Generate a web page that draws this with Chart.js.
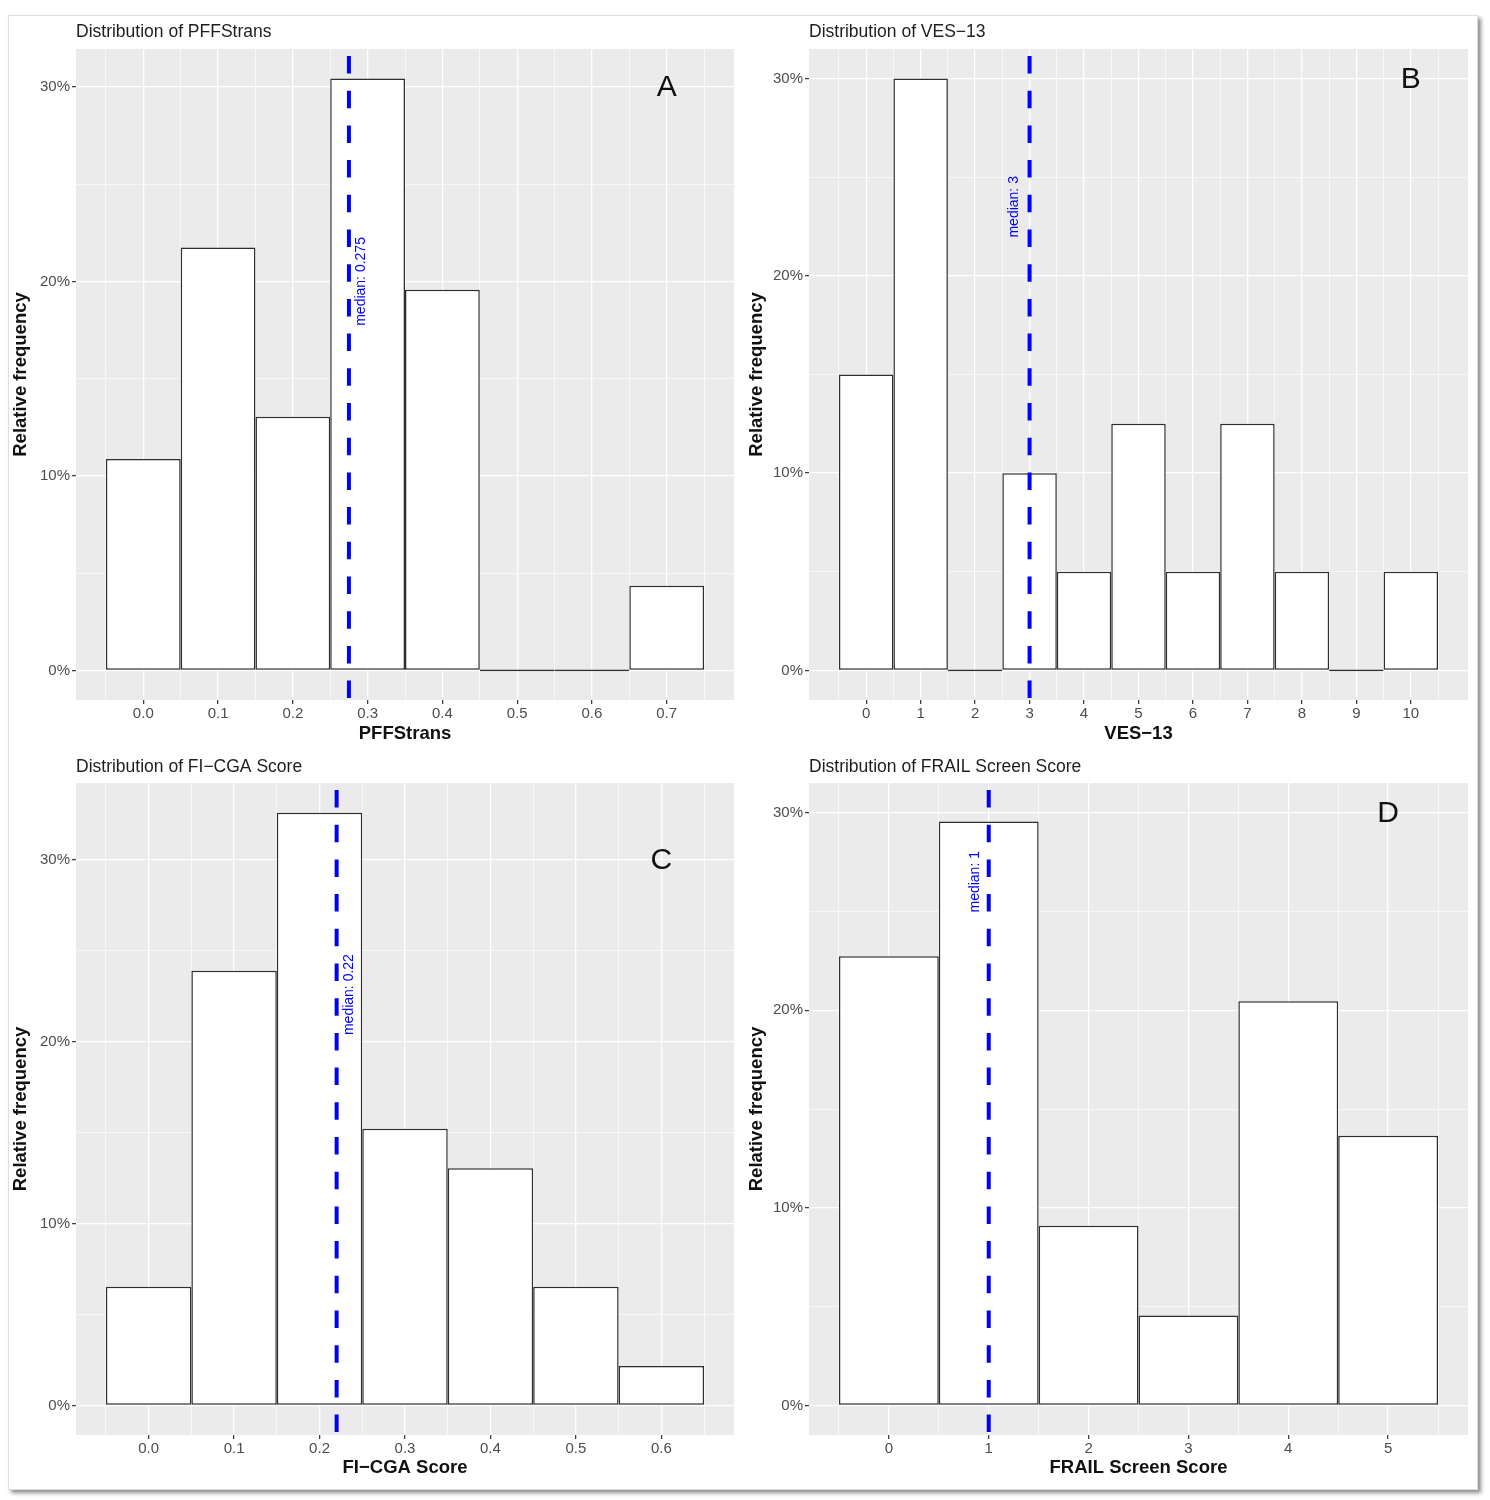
<!DOCTYPE html>
<html>
<head>
<meta charset="utf-8">
<script src="https://cdn.jsdelivr.net/npm/chart.js@4.4.1/dist/chart.umd.min.js"></script>
<style>
html,body{margin:0;padding:0;background:#fff;}
body{width:1490px;height:1500px;position:relative;overflow:hidden;font-family:"Liberation Sans",Arial,sans-serif;}
#frame{position:absolute;left:8px;top:15px;width:1468px;height:1473px;border:1px solid #dedede;box-shadow:3px 3px 4px rgba(0,0,0,0.45);background:#fff;}
canvas{position:absolute;}
</style>
</head>
<body>
<div id="frame"></div>
<canvas id="cA"></canvas>
<canvas id="cB"></canvas>
<canvas id="cC"></canvas>
<canvas id="cD"></canvas>
<script>
// ---------------- data ----------------
const pffBins = [0.0, 0.1, 0.2, 0.3, 0.4, 0.5, 0.6, 0.7];
const pffPercent = [10.87, 21.74, 13.04, 30.43, 19.57, 0, 0, 4.35];
const pffTicks = [0.0, 0.1, 0.2, 0.3, 0.4, 0.5, 0.6, 0.7];
const pffTickLabels = ['0.0', '0.1', '0.2', '0.3', '0.4', '0.5', '0.6', '0.7'];
const pffMedian = 0.275;

const vesBins = [0, 1, 2, 3, 4, 5, 6, 7, 8, 9, 10];
const vesPercent = [15, 30, 0, 10, 5, 12.5, 5, 12.5, 5, 0, 5];
const vesTicks = [0, 1, 2, 3, 4, 5, 6, 7, 8, 9, 10];
const vesTickLabels = ['0', '1', '2', '3', '4', '5', '6', '7', '8', '9', '10'];
const vesMedian = 3;

const fiBins = [0.0, 0.1, 0.2, 0.3, 0.4, 0.5, 0.6];
const fiPercent = [6.52, 23.91, 32.61, 15.22, 13.04, 6.52, 2.17];
const fiTicks = [0.0, 0.1, 0.2, 0.3, 0.4, 0.5, 0.6];
const fiTickLabels = ['0.0', '0.1', '0.2', '0.3', '0.4', '0.5', '0.6'];
const fiMedian = 0.22;

const frailBins = [0, 1, 2, 3, 4, 5];
const frailPercent = [22.73, 29.55, 9.09, 4.55, 20.45, 13.64];
const frailTicks = [0, 1, 2, 3, 4, 5];
const frailTickLabels = ['0', '1', '2', '3', '4', '5'];
const frailMedian = 1;

const yTickValues = [0, 10, 20, 30];
const yTickLabels = ['0%', '10%', '20%', '30%'];

const panelTitles = ['Distribution of PFFStrans', 'Distribution of VES\u221213', 'Distribution of FI\u2212CGA Score', 'Distribution of FRAIL Screen Score'];
const xTitles = ['PFFStrans', 'VES\u221213', 'FI\u2212CGA Score', 'FRAIL Screen Score'];
const panelLetters = ['A', 'B', 'C', 'D'];
const medianLabels = ['median: 0.275', 'median: 3', 'median: 0.22', 'median: 1'];
const medianLabelY = [20, 23.5, 22.6, 26.5];
const letterY = 30;

// ---------------- styling / geometry ----------------
const FONT = '"Liberation Sans", Arial, sans-serif';
const TITLE_SIZE = 17.5, AXIS_TITLE_SIZE = 18.5, TICK_SIZE = 15, LETTER_SIZE = 30, MEDIAN_SIZE = 14;
Chart.defaults.font.family = FONT;

const geometry = [
  {canvas: [0, 0, 745, 752],   area: [76, 49, 734, 700],    titleY: 32,  yTitleX: 21,  xTitleY: 734,  padLeft: 4, medDx: 12},
  {canvas: [745, 0, 745, 752], area: [809, 49, 1468, 700],  titleY: 32,  yTitleX: 757, xTitleY: 734,  padLeft: 0, medDx: -15},
  {canvas: [0, 752, 745, 748], area: [76, 783, 734, 1435],  titleY: 767, yTitleX: 21,  xTitleY: 1468, padLeft: 4, medDx: 13},
  {canvas: [745, 752, 745, 748], area: [809, 783, 1468, 1435], titleY: 767, yTitleX: 757, xTitleY: 1468, padLeft: 0, medDx: -14}
];

const decor = {
  id: 'decor',
  beforeDraw(chart) {
    const {ctx, chartArea: a} = chart;
    ctx.save();
    ctx.fillStyle = '#EBEBEB';
    ctx.fillRect(a.left, a.top, a.right - a.left, a.bottom - a.top);
    ctx.restore();
  },
  afterDatasetsDraw(chart, args, o) {
    const {ctx, chartArea: a} = chart;
    const xs = chart.scales.x, ys = chart.scales.y;
    const px = xs.getPixelForValue(o.median);
    ctx.save();
    ctx.beginPath();
    ctx.rect(a.left, a.top, a.right - a.left, a.bottom - a.top);
    ctx.clip();
    ctx.strokeStyle = '#0000FF';
    ctx.lineWidth = 4;
    ctx.setLineDash([17.5, 17.2]);
    ctx.lineDashOffset = 27.7;
    ctx.beginPath();
    ctx.moveTo(px, a.top);
    ctx.lineTo(px, a.bottom);
    ctx.stroke();
    ctx.setLineDash([]);
    // median text
    ctx.save();
    ctx.translate(px + o.medDx, ys.getPixelForValue(o.labelY));
    ctx.rotate(-Math.PI / 2);
    ctx.font = MEDIAN_SIZE + 'px ' + FONT;
    ctx.fillStyle = '#0000FF';
    ctx.textAlign = 'center';
    ctx.textBaseline = 'middle';
    ctx.fillText(o.label, 0, 0);
    ctx.restore();
    // panel letter
    ctx.font = LETTER_SIZE + 'px ' + FONT;
    ctx.fillStyle = '#111';
    ctx.textAlign = 'center';
    ctx.textBaseline = 'middle';
    ctx.fillText(o.letter, xs.getPixelForValue(o.letterX), ys.getPixelForValue(o.letterY) + 1);
    ctx.restore();
  }
};

function r6(v) { return Math.round(v * 1e6) / 1e6; }

function buildPanel(id, idx, bins, percent, ticks, tickLabels, median) {
  const g = geometry[idx];
  const [cl, ct, cw, ch] = g.canvas;
  const [L, T, R, B] = g.area;
  const cv = document.getElementById(id);
  cv.width = cw; cv.height = ch;
  cv.style.left = cl + 'px'; cv.style.top = ct + 'px';
  cv.style.width = cw + 'px'; cv.style.height = ch + 'px';

  const titleLH = TITLE_SIZE * 1.2, axisLH = AXIS_TITLE_SIZE * 1.2;
  const padTop = g.titleY - ct - titleLH / 2;
  const titlePadBottom = T - ct - padTop - titleLH;
  const yAxisW = L - cl - g.padLeft;
  const yTitlePad = g.yTitleX - (cl + g.padLeft) - axisLH / 2;
  const padRight = cl + cw - R;
  const padBottom = 2;
  const xAxisH = ct + ch - padBottom - B;
  const xTitlePad = (B + xAxisH) - g.xTitleY - axisLH / 2;

  // ggplot-like ranges: bins +- half width, 5% expansion
  const bw = bins[1] - bins[0];
  const xlo = bins[0] - bw / 2, xhi = bins[bins.length - 1] + bw / 2;
  const xexp = (xhi - xlo) * 0.05;
  const ytop = Math.max(Math.max(...percent), letterY);
  const yexp = ytop * 0.05;

  // major + minor ticks
  const tstep = ticks[1] - ticks[0];
  const xTickList = [];
  for (let i = -1; i < ticks.length; i++) {
    if (i >= 0) xTickList.push({value: r6(ticks[i]), isMajor: true});
    const m = r6((i >= 0 ? ticks[i] : ticks[0] - tstep) + tstep / 2);
    if (m > xlo - xexp && m < xhi + xexp) xTickList.push({value: m, isMajor: false});
  }
  xTickList.sort((a, b) => a.value - b.value);
  const yTickList = [];
  for (let i = 0; i < yTickValues.length; i++) {
    yTickList.push({value: yTickValues[i], isMajor: true});
    if (i < yTickValues.length - 1) yTickList.push({value: (yTickValues[i] + yTickValues[i + 1]) / 2, isMajor: false});
  }

  const gridW = ctx => (ctx.tick && ctx.tick.isMajor) ? 1.3 : 0.6;
  const tickC = ctx => (ctx.tick && ctx.tick.isMajor) ? '#333333' : 'rgba(0,0,0,0)';

  return new Chart(cv, {
    type: 'bar',
    data: {
      datasets: [{
        data: bins.map((b, i) => ({x: b, y: percent[i]})),
        backgroundColor: '#FFFFFF',
        borderColor: '#2e2e2e',
        borderWidth: 1.5,
        borderSkipped: false,
        minBarLength: 1.8,
        barPercentage: 2,
        categoryPercentage: 1
      }]
    },
    plugins: [decor],
    options: {
      responsive: false,
      animation: false,
      events: [],
      layout: {padding: {left: g.padLeft, right: padRight, top: padTop, bottom: padBottom}},
      plugins: {
        legend: {display: false},
        tooltip: {enabled: false},
        title: {
          display: true, text: panelTitles[idx], align: 'start', fullSize: false,
          color: '#1e1e1e', font: {size: TITLE_SIZE, weight: 'normal'},
          padding: {top: 0, bottom: titlePadBottom}
        },
        decor: {median: median, label: medianLabels[idx], labelY: medianLabelY[idx], medDx: g.medDx,
                letter: panelLetters[idx], letterX: ticks[ticks.length - 1], letterY: letterY}
      },
      scales: {
        x: {
          type: 'linear', offset: false,
          min: xlo - xexp, max: xhi + xexp,
          afterBuildTicks: s => { s.ticks = xTickList.map(t => ({value: t.value, isMajor: t.isMajor})); },
          afterFit: s => { s.height = xAxisH; },
          ticks: {
            autoSkip: false, maxRotation: 0, minRotation: 0, padding: 1,
            color: '#4d4d4d', font: {size: TICK_SIZE},
            callback: v => { const i = ticks.findIndex(t => Math.abs(t - v) < 1e-6); return i >= 0 ? tickLabels[i] : ''; }
          },
          grid: {offset: false, color: '#FFFFFF', lineWidth: gridW, tickColor: tickC, tickLength: 4, tickWidth: 1.2, drawTicks: true},
          border: {display: false},
          title: {display: true, text: xTitles[idx], color: '#111', font: {size: AXIS_TITLE_SIZE, weight: 'bold'}, padding: {top: 0, bottom: xTitlePad}}
        },
        y: {
          type: 'linear',
          min: -yexp, max: ytop + yexp,
          afterBuildTicks: s => { s.ticks = yTickList.map(t => ({value: t.value, isMajor: t.isMajor})); },
          afterFit: s => { s.width = yAxisW; },
          ticks: {
            autoSkip: false, padding: 2, color: '#4d4d4d', font: {size: TICK_SIZE},
            callback: v => { const i = yTickValues.indexOf(v); return i >= 0 ? yTickLabels[i] : ''; }
          },
          grid: {color: '#FFFFFF', lineWidth: gridW, tickColor: tickC, tickLength: 4, tickWidth: 1.2, drawTicks: true},
          border: {display: false},
          title: {display: true, text: 'Relative frequency', color: '#111', font: {size: AXIS_TITLE_SIZE, weight: 'bold'}, padding: {top: yTitlePad, bottom: 0}}
        }
      }
    }
  });
}

buildPanel('cA', 0, pffBins, pffPercent, pffTicks, pffTickLabels, pffMedian);
buildPanel('cB', 1, vesBins, vesPercent, vesTicks, vesTickLabels, vesMedian);
buildPanel('cC', 2, fiBins, fiPercent, fiTicks, fiTickLabels, fiMedian);
buildPanel('cD', 3, frailBins, frailPercent, frailTicks, frailTickLabels, frailMedian);
</script>
</body>
</html>
